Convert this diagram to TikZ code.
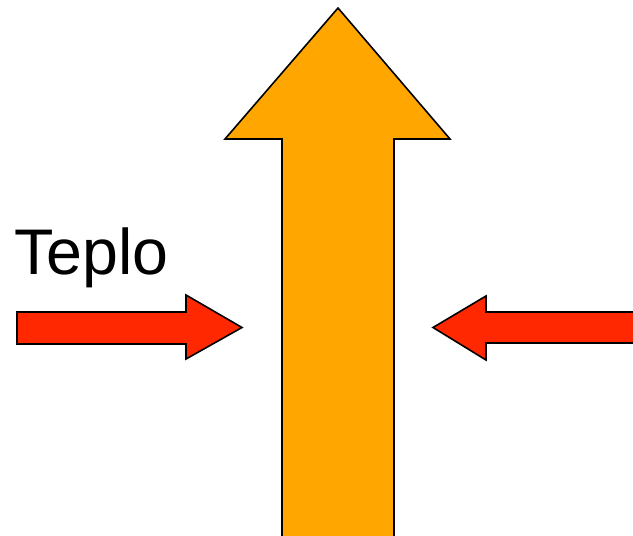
\documentclass[tikz,border=0pt]{standalone}
\usepackage{fontspec}
\setmainfont{Liberation Sans}
\definecolor{bigorange}{RGB}{255,166,0}
\definecolor{heatred}{RGB}{255,40,0}
\tikzset{
  shapeline/.style={draw=black, line width=1.6pt, line join=miter},
}
\begin{document}
\begin{tikzpicture}[x=1pt,y=-1pt]
\useasboundingbox (0,0) rectangle (633,536);
% big upward arrow
\path[shapeline, fill=bigorange]
  (338,8) -- (450,139) -- (394,139) -- (394,540) -- (282,540) -- (282,139) -- (225,139) -- cycle;
% left heat arrow
\path[shapeline, fill=heatred]
  (17,312) -- (186,312) -- (186,295) -- (242,327.5) -- (186,359) -- (186,344) -- (17,344) -- cycle;
% right heat arrow
\path[shapeline, fill=heatred]
  (640,312) -- (486,312) -- (486,296) -- (433,327.5) -- (486,360) -- (486,343) -- (640,343) -- cycle;
% label
\node[anchor=base west, inner sep=0pt, font=\fontsize{64.5}{64.5}\selectfont] (teplo) at (14,274) {Teplo};
\end{tikzpicture}
\end{document}
